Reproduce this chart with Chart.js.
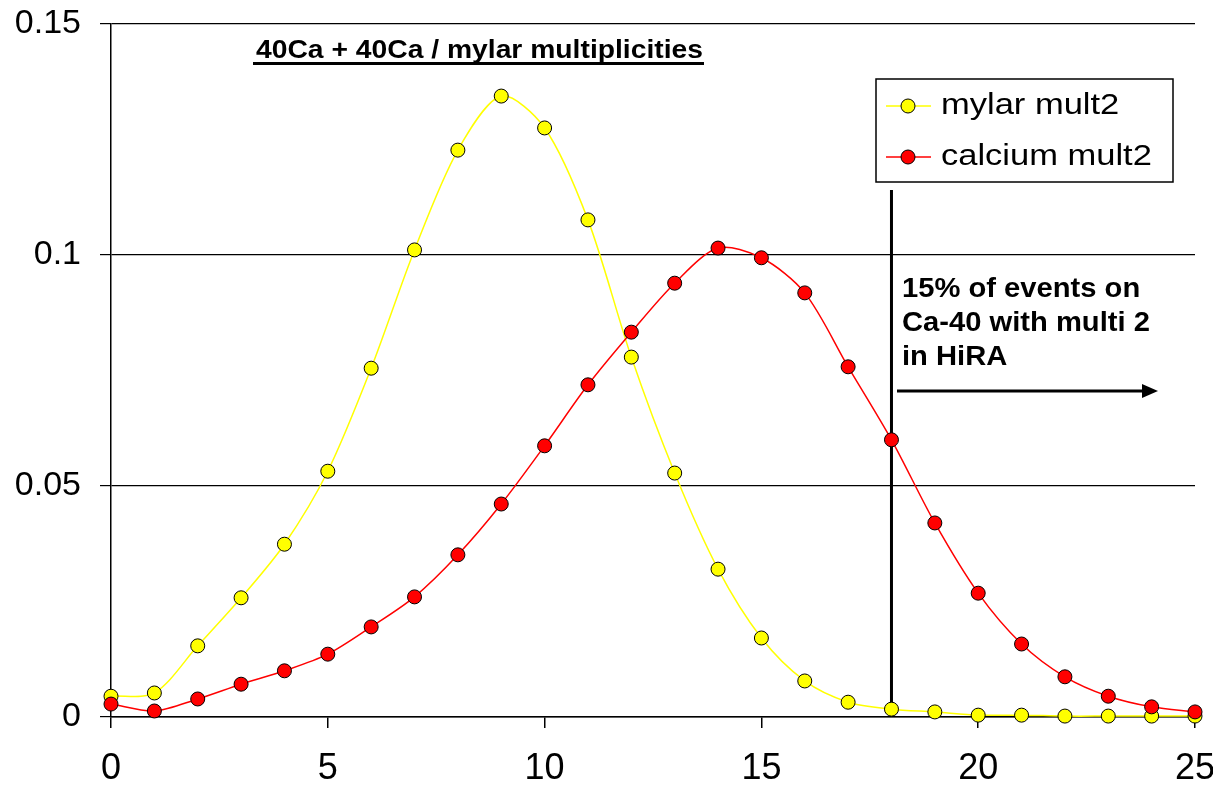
<!DOCTYPE html>
<html lang="en">
<head>
  <meta charset="UTF-8">
  <title>40Ca + 40Ca / mylar multiplicities</title>
  <style>
    html, body { margin: 0; padding: 0; background: #fff; }
    #wrap { width: 1213px; height: 785px; }
  </style>
</head>
<body>
<div id="wrap"><canvas id="chart"></canvas></div>

<script src="https://cdn.jsdelivr.net/npm/chart.js"></script>
<script>
  // multiplicity values (x axis)
  const multiplicity = [0, 1, 2, 3, 4, 5, 6, 7, 8, 9, 10, 11, 12, 13, 14, 15, 16, 17, 18, 19, 20, 21, 22, 23, 24, 25];
  // series
  const mylarMult2 = [0.0045, 0.0052, 0.0154, 0.0258, 0.0374, 0.0532, 0.0755, 0.1011, 0.1227, 0.1344,
    0.1275, 0.1076, 0.0779, 0.0528, 0.0320, 0.0171, 0.0078, 0.0032, 0.0017, 0.0011,
    0.0004, 0.0004, 0.0002, 0.0002, 0.0002, 0.0002];
  const calciumMult2 = [0.0028, 0.0013, 0.0039, 0.0071, 0.0100, 0.0136, 0.0195, 0.0260, 0.0351, 0.0461,
    0.0587, 0.0719, 0.0833, 0.0939, 0.1015, 0.0994, 0.0918, 0.0758, 0.0600, 0.0420,
    0.0268, 0.0158, 0.0087, 0.0045, 0.0022, 0.0011];
  const yTicks = [0, 0.05, 0.1, 0.15];
  const xTicks = [0, 5, 10, 15, 20, 25];
  const seriesNames = ['mylar mult2', 'calcium mult2'];
  const chartTitle = '40Ca + 40Ca / mylar multiplicities';
  const noteLines = ['15% of events on', 'Ca-40 with multi 2', 'in HiRA'];
  const cutX = 18;

  const FONT = '"Liberation Sans", Arial, sans-serif';

  const toPoints = (ys) => ys.map((y, i) => ({ x: multiplicity[i], y: y }));

  // draws text squeezed/stretched to a given width
  function fitText(ctx, text, x, y, width) {
    const w = ctx.measureText(text).width;
    ctx.save();
    ctx.translate(x, y);
    ctx.scale(width / w, 1);
    ctx.fillText(text, 0, 0);
    ctx.restore();
  }

  // vertical cut line, drawn under the markers
  const cutLine = {
    id: 'cutLine',
    beforeDatasetsDraw(chart) {
      const { ctx, scales: { x, y } } = chart;
      ctx.save();
      ctx.strokeStyle = '#000';
      ctx.lineWidth = 3;
      ctx.beginPath();
      ctx.moveTo(x.getPixelForValue(cutX), 190);
      ctx.lineTo(x.getPixelForValue(cutX), y.getPixelForValue(mylarMult2[cutX]));
      ctx.stroke();
      ctx.restore();
    }
  };

  // title, legend box, note and arrow
  const extras = {
    id: 'extras',
    afterDraw(chart) {
      const { ctx } = chart;
      ctx.save();
      ctx.fillStyle = '#000';
      ctx.textAlign = 'left';
      ctx.textBaseline = 'alphabetic';

      // title with underline
      ctx.font = 'bold 25px ' + FONT;
      fitText(ctx, chartTitle, 256, 58, 447);
      ctx.fillRect(253, 62, 451, 3);

      // legend
      ctx.fillStyle = '#fff';
      ctx.fillRect(876, 79, 297, 103);
      ctx.strokeStyle = '#000';
      ctx.lineWidth = 1.5;
      ctx.strokeRect(876, 79, 297, 103);
      chart.data.datasets.slice().sort((a, b) => a.legendRow - b.legendRow).forEach((ds, i) => {
        const cy = 106 + i * 51;
        ctx.strokeStyle = ds.borderColor;
        ctx.lineWidth = 1.5;
        ctx.beginPath();
        ctx.moveTo(886, cy);
        ctx.lineTo(931, cy);
        ctx.stroke();
        ctx.beginPath();
        ctx.arc(908, cy, 7, 0, Math.PI * 2);
        ctx.fillStyle = ds.pointBackgroundColor;
        ctx.fill();
        ctx.strokeStyle = '#000';
        ctx.lineWidth = 1;
        ctx.stroke();
        ctx.fillStyle = '#000';
        ctx.font = '30px ' + FONT;
        const w = ctx.measureText(ds.label).width * 1.15;
        fitText(ctx, ds.label, 941, cy + 8, w);
      });

      // note text
      ctx.font = 'bold 27px ' + FONT;
      noteLines.forEach((t, i) => {
        const w = ctx.measureText(t).width * 1.08;
        fitText(ctx, t, 902, 297 + i * 34, w);
      });

      // arrow
      ctx.strokeStyle = '#000';
      ctx.lineWidth = 3;
      ctx.beginPath();
      ctx.moveTo(897, 391);
      ctx.lineTo(1145, 391);
      ctx.stroke();
      ctx.beginPath();
      ctx.moveTo(1158, 391);
      ctx.lineTo(1142, 384);
      ctx.lineTo(1142, 398);
      ctx.closePath();
      ctx.fillStyle = '#000';
      ctx.fill();

      ctx.restore();
    }
  };

  new Chart(document.getElementById('chart'), {
    type: 'line',
    data: {
      datasets: [
        {
          label: seriesNames[0],
          legendRow: 0,
          data: toPoints(mylarMult2),
          borderColor: '#ffff00',
          backgroundColor: '#ffff00',
          pointBackgroundColor: '#ffff00',
          pointBorderColor: '#000',
          pointBorderWidth: 1,
          pointRadius: 7,
          borderWidth: 1.5,
          tension: 0.3,
          clip: false,
          order: 1
        },
        {
          label: seriesNames[1],
          legendRow: 1,
          data: toPoints(calciumMult2),
          borderColor: '#ff0000',
          backgroundColor: '#ff0000',
          pointBackgroundColor: '#ff0000',
          pointBorderColor: '#000',
          pointBorderWidth: 1,
          pointRadius: 7,
          borderWidth: 1.5,
          tension: 0.3,
          clip: false,
          order: 0
        }
      ]
    },
    options: {
      responsive: true,
      maintainAspectRatio: false,
      animation: false,
      layout: { padding: { top: 24, right: 18, bottom: 0, left: 0 } },
      plugins: {
        legend: { display: false },
        tooltip: { enabled: false },
        title: { display: false }
      },
      scales: {
        x: {
          type: 'linear',
          min: 0,
          max: 25,
          afterBuildTicks: (s) => { s.ticks = xTicks.map(v => ({ value: v })); },
          afterFit: (s) => {
            s.height = 68;
            s.paddingLeft = 0;
            s.paddingRight = 0;
          },
          border: { color: '#000', width: 1.5 },
          grid: { drawOnChartArea: false, drawTicks: true, tickLength: 11, color: '#000', lineWidth: 1.5 },
          ticks: { color: '#000', font: { family: FONT, size: 36 }, padding: 19, maxRotation: 0 }
        },
        y: {
          min: 0,
          max: 0.15,
          afterBuildTicks: (s) => { s.ticks = yTicks.map(v => ({ value: v })); },
          afterFit: (s) => {
            s.width = 111;
            s.paddingTop = 0;
            s.paddingBottom = 0;
          },
          border: { color: '#000', width: 1.5 },
          grid: { color: '#000', lineWidth: 1.2, tickLength: 11 },
          ticks: {
            color: '#000',
            font: { family: FONT, size: 34 },
            padding: 19,
            callback: (v) => String(+v.toFixed(2))
          }
        }
      }
    },
    plugins: [cutLine, extras]
  });
</script>
</body>
</html>
